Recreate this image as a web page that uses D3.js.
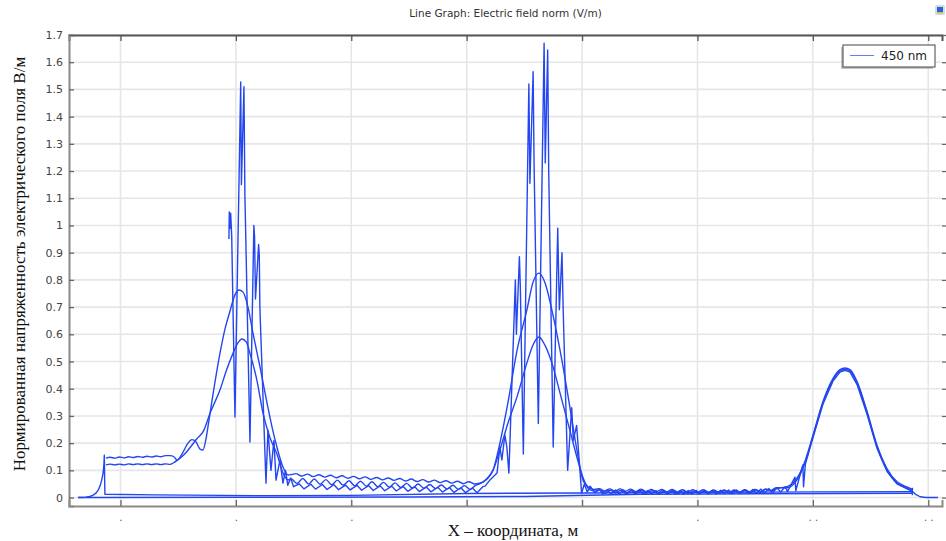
<!DOCTYPE html>
<html>
<head>
<meta charset="utf-8">
<script src="https://cdn.jsdelivr.net/npm/d3@7"></script>
<style>
  html, body { margin: 0; padding: 0; background: #ffffff; }
  svg { display: block; }
</style>
</head>
<body>
<svg id="chart" width="946" height="541"></svg>
<script>
// ---- axis ticks ----
const xTicks = [0, 100, 200, 300, 400, 500, 600, 700];
const xTickLabels = [".", ".", ".", "", "", ".", ". .", ". ."];
const yTicks = [0, 0.1, 0.2, 0.3, 0.4, 0.5, 0.6, 0.7, 0.8, 0.9, 1, 1.1, 1.2, 1.3, 1.4, 1.5, 1.6, 1.7];
const yTickLabels = ["0", "0.1", "0.2", "0.3", "0.4", "0.5", "0.6", "0.7", "0.8", "0.9", "1",
                     "1.1", "1.2", "1.3", "1.4", "1.5", "1.6", "1.7"];

// ---- texts ----
const titleText = "Line Graph: Electric field norm (V/m)";
const xAxisTitle = "X – координата, м";
const yAxisTitle = "Нормированная напряженность электрического поля В/м";
const legendLabel = "450 nm";

// ---- field norm along the cut lines, [x, |E|] ----
// source edge: exponential rise, then the slowly varying near-zero return
const baseLine = [
  [-36.8, 0.000], [-30, 0.001], [-26.5, 0.004], [-23.6, 0.009], [-21, 0.017], [-19.2, 0.028],
  [-17.5, 0.045], [-16.3, 0.064], [-15.5, 0.080], [-14.9, 0.095], [-14.3, 0.125], [-14.0, 0.156],
  [-13.5, 0.012], [30, 0.010], [120, 0.007], [200, 0.008], [300, 0.015], [400, 0.017],
  [500, 0.019], [600, 0.021], [686, 0.022], [686.3, 0.009]
];

const zeroLine = [
  [-36.8, 0.000], [-13.5, 0.000], [100, 0.001], [250, 0.002], [350, 0.004], [450, 0.012],
  [686, 0.016], [686.3, 0.036]
];

// upper smooth envelope
const traceUpper = [
  [-12.6, 0.145], [-9, 0.148], [-5, 0.145], [-1, 0.149], [3, 0.146], [7, 0.150], [11, 0.147],
  [15, 0.151], [19, 0.148], [23, 0.152], [27, 0.149], [31, 0.153], [35, 0.150], [39, 0.154],
  [42.9, 0.154], [46.4, 0.150], [49.0, 0.137], [53.3, 0.160], [58.5, 0.200], [61.9, 0.213],
  [65.4, 0.205], [68.9, 0.178], [71.5, 0.175], [74.1, 0.215], [75.8, 0.260], [80.2, 0.380],
  [86.2, 0.530], [90.6, 0.620], [94.9, 0.685], [99.2, 0.745], [102.7, 0.763], [106.2, 0.755],
  [110.5, 0.700], [114.8, 0.605], [120.9, 0.480], [126.9, 0.350], [131.3, 0.260], [135.6, 0.185],
  [140.8, 0.112], [145.2, 0.083], [148.6, 0.085],
  [152, 0.088], [157, 0.079], [162, 0.086], [167, 0.077], [172, 0.084], [177, 0.075], [182, 0.082],
  [187, 0.073], [192, 0.080], [197, 0.071], [202, 0.078], [207, 0.069], [212, 0.076], [217, 0.067],
  [222, 0.074], [227, 0.065], [232, 0.072], [237, 0.063], [242, 0.070], [247, 0.061], [252, 0.068],
  [257, 0.059], [262, 0.066], [267, 0.057], [272, 0.064], [277, 0.055], [282, 0.062], [287, 0.053],
  [292, 0.060], [297, 0.051], [302, 0.058], [307, 0.050],
  [312, 0.054], [314.5, 0.058], [317.6, 0.068], [322.8, 0.100], [328.8, 0.200], [335.8, 0.350],
  [343.6, 0.540], [352.2, 0.690], [357.4, 0.790], [362.6, 0.825], [367.8, 0.790], [373.8, 0.690],
  [382.5, 0.505], [389.4, 0.333], [395.5, 0.175], [400.7, 0.065], [406.8, 0.035], [411, 0.030],
  [415, 0.033], [419.5, 0.024], [424, 0.032], [428.5, 0.023], [433, 0.032], [437.5, 0.023],
  [442, 0.031], [446.5, 0.022], [451, 0.031], [455.5, 0.022], [460, 0.030], [464.5, 0.022],
  [469, 0.030], [473.5, 0.021], [478, 0.030], [482.5, 0.021], [487, 0.029], [491.5, 0.021],
  [496, 0.029], [500.5, 0.020], [505, 0.029], [509.5, 0.020], [514, 0.028], [518.5, 0.020],
  [523, 0.028], [527.5, 0.020], [532, 0.028], [536.5, 0.020], [541, 0.029], [545.5, 0.021],
  [550, 0.030], [554.5, 0.022], [559, 0.032], [563.5, 0.026], [568, 0.036],
  [577.6, 0.036], [586.2, 0.065], [593.1, 0.127], [600, 0.223], [608.7, 0.347], [617.4, 0.432],
  [623.5, 0.465], [627.8, 0.472], [632.2, 0.465], [638.3, 0.420], [647, 0.310], [655.6, 0.186],
  [664.3, 0.100], [673, 0.053], [681.6, 0.035], [685.9, 0.027]
];

// lower smooth envelope
const traceLower = [
  [-12.6, 0.120], [-9, 0.123], [-5, 0.120], [-1, 0.123], [3, 0.120], [7, 0.124], [11, 0.121],
  [15, 0.124], [19, 0.121], [23, 0.124], [27, 0.121], [31, 0.124], [35, 0.121], [39, 0.124],
  [43, 0.122], [46, 0.128], [50, 0.140], [55, 0.157], [60, 0.182], [66, 0.215], [72, 0.245],
  [77.6, 0.310], [86.2, 0.395], [92, 0.470], [97.5, 0.530], [101.5, 0.567], [105.3, 0.583],
  [109, 0.572], [112.2, 0.530], [118.3, 0.430], [123.5, 0.310], [129.6, 0.220], [135.6, 0.160],
  [140.8, 0.090], [145.2, 0.065],
  [148, 0.068], [153, 0.052], [158, 0.070], [163, 0.050], [168, 0.068], [173, 0.049], [178, 0.066],
  [183, 0.047], [188, 0.064], [193, 0.045], [198, 0.062], [203, 0.043], [208, 0.060], [213, 0.042],
  [218, 0.058], [223, 0.040], [228, 0.056], [233, 0.038], [238, 0.054], [243, 0.037], [248, 0.052],
  [253, 0.035], [258, 0.050], [263, 0.034], [268, 0.048], [273, 0.033], [278, 0.046], [283, 0.031],
  [288, 0.045], [293, 0.030], [298, 0.044], [303, 0.030], [308, 0.046], [312, 0.052],
  [317.6, 0.070], [322.8, 0.100], [328.8, 0.175], [335.8, 0.274], [343.6, 0.370], [352.2, 0.495],
  [357.4, 0.560], [362.6, 0.590], [367.8, 0.560], [373.8, 0.495], [382.5, 0.358], [389.4, 0.248],
  [395.5, 0.149], [400.7, 0.075], [406.8, 0.028], [411, 0.024],
  [415.5, 0.027], [420, 0.017], [424.5, 0.027], [429, 0.017], [433.5, 0.026], [438, 0.016],
  [442.5, 0.026], [447, 0.016], [451.5, 0.026], [456, 0.016], [460.5, 0.025], [465, 0.016],
  [469.5, 0.025], [474, 0.015], [478.5, 0.025], [483, 0.015], [487.5, 0.025], [492, 0.015],
  [496.5, 0.024], [501, 0.015], [505.5, 0.024], [510, 0.015], [514.5, 0.024], [519, 0.016],
  [523.5, 0.025], [528, 0.016], [532.5, 0.025], [537, 0.017], [541.5, 0.026], [546, 0.018],
  [550.5, 0.028], [555, 0.020], [559.5, 0.030], [564, 0.024], [568.5, 0.033],
  [577.6, 0.040], [586.2, 0.071], [593.1, 0.133], [600, 0.228], [608.7, 0.352], [617.4, 0.437],
  [623.5, 0.470], [627.8, 0.476], [632.2, 0.470], [638.3, 0.426], [647, 0.316], [655.6, 0.192],
  [664.3, 0.106], [673, 0.058], [681.6, 0.039], [685.9, 0.031]
];

// strongly oscillating trace
const traceSpiky = [
  [94.0, 0.950], [94.3, 1.050], [94.9, 0.990], [95.5, 1.045], [96.4, 0.960], [99.2, 0.296],
  [104.2, 1.527], [104.8, 1.150], [107.0, 1.510], [107.8, 1.120], [112.2, 0.204], [115.6, 1.000],
  [116.2, 0.960], [117.0, 0.730], [119.7, 0.930], [120.3, 0.890], [120.8, 0.700], [126.1, 0.053],
  [127.8, 0.248], [130.4, 0.100], [133.0, 0.210], [134.8, 0.064], [138.2, 0.138], [140.8, 0.053],
  [143.0, 0.100], [145.0, 0.045], [147.5, 0.072], [150.0, 0.040],
  [155, 0.050], [159, 0.032], [165, 0.049], [169, 0.031], [175, 0.048], [179, 0.030], [185, 0.047],
  [189, 0.029], [195, 0.046], [199, 0.028], [205, 0.045], [209, 0.027], [215, 0.044], [219, 0.026],
  [225, 0.043], [229, 0.025], [235, 0.042], [239, 0.024], [245, 0.041], [249, 0.023], [255, 0.040],
  [259, 0.022], [265, 0.039], [269, 0.021], [275, 0.038], [279, 0.020], [285, 0.037], [289, 0.019],
  [295, 0.036], [299, 0.018], [305, 0.035], [309, 0.018], [314, 0.040],
  [316, 0.042], [320.2, 0.065], [326.3, 0.090], [328.8, 0.186], [330.5, 0.138], [333.1, 0.230],
  [334.8, 0.186], [336.6, 0.090], [342.2, 0.800], [343.1, 0.600], [345.7, 0.885], [346.5, 0.773],
  [349.1, 0.160], [353.9, 1.520], [354.8, 1.155], [357.6, 1.565], [358.4, 1.230], [362.1, 0.272],
  [367.1, 1.670], [368.1, 1.230], [370.2, 1.645], [371.1, 1.200], [375.0, 0.186], [378.9, 0.990],
  [380.3, 0.690], [382.6, 0.900], [383.7, 0.680], [387.5, 0.100], [391.0, 0.330], [392.4, 0.210],
  [395.3, 0.265], [399.6, 0.016], [402, 0.050], [404.5, 0.020], [407, 0.042],
  [411, 0.018], [415, 0.030], [418, 0.014], [422, 0.029], [425, 0.013], [429, 0.028], [432, 0.013],
  [436, 0.028], [439, 0.012], [443, 0.027], [446, 0.012], [450, 0.027], [453, 0.012], [457, 0.026],
  [460, 0.012], [464, 0.026], [467, 0.012], [471, 0.026], [474, 0.012], [478, 0.026], [481, 0.012],
  [485, 0.026], [488, 0.012], [492, 0.026], [495, 0.012], [499, 0.026], [502, 0.013], [506, 0.027],
  [509, 0.013], [513, 0.027], [516, 0.013], [520, 0.027], [523, 0.014], [527, 0.028], [530, 0.014],
  [534, 0.028], [537, 0.015], [541, 0.029], [544, 0.015], [548, 0.030], [551, 0.016], [555, 0.031],
  [558, 0.017], [562, 0.033], [565, 0.018], [569, 0.036], [572, 0.020], [576, 0.040], [578, 0.022],
  [584.5, 0.075], [585.2, 0.025], [591.3, 0.120], [591.9, 0.040], [593.5, 0.123],
  [600, 0.219], [608.7, 0.343], [617.4, 0.428], [623.5, 0.461], [627.8, 0.468], [632.2, 0.461],
  [638.3, 0.415], [647, 0.305], [655.6, 0.181], [664.3, 0.096], [673, 0.050], [681.6, 0.032],
  [685.9, 0.024], [689, 0.012], [693, 0.003], [698, 0.000], [708.4, 0.000]
];

// ---- layout ----
const W = 946, H = 541;
const plot = { left: 69, right: 942, top: 35, bottom: 506 };
const lineColor = "#2346f0";
const svg = d3.select("#chart");

const x = d3.scaleLinear().domain([-44.6, 711.9]).range([plot.left, plot.right]);
const y = d3.scaleLinear().domain([-0.031, 1.7]).range([plot.bottom, plot.top]);

svg.append("rect").attr("width", W).attr("height", H).attr("fill", "#ffffff");

// grid
const grid = svg.append("g");
grid.selectAll("line.vg").data(xTicks).join("line")
  .attr("x1", d => x(d)).attr("x2", d => x(d))
  .attr("y1", plot.top).attr("y2", plot.bottom)
  .attr("stroke", "#e6e6e6").attr("stroke-width", 1.6);
grid.selectAll("line.hg").data(yTicks).join("line")
  .attr("x1", plot.left).attr("x2", plot.right)
  .attr("y1", d => y(d)).attr("y2", d => y(d))
  .attr("stroke", "#e6e6e6").attr("stroke-width", 1.6);

// clip for curves
svg.append("defs").append("clipPath").attr("id", "plotClip")
  .append("rect").attr("x", plot.left).attr("y", plot.top - 2)
  .attr("width", plot.right - plot.left).attr("height", plot.bottom - plot.top + 2);

const linePath = d3.line().x(d => x(d[0])).y(d => y(d[1]));
const smoothPath = d3.line().x(d => x(d[0])).y(d => y(d[1])).curve(d3.curveMonotoneX);

const curves = svg.append("g").attr("clip-path", "url(#plotClip)")
  .attr("fill", "none").attr("stroke", lineColor).attr("stroke-width", 1.4)
  .attr("stroke-linejoin", "round");
curves.append("path").attr("d", linePath(zeroLine));
curves.append("path").attr("d", linePath(baseLine));
curves.append("path").attr("d", smoothPath(traceLower));
curves.append("path").attr("d", smoothPath(traceUpper));
curves.append("path").attr("d", linePath(traceSpiky));

// bottom axis with inward ticks
const xAxisB = d3.axisBottom(x).tickValues(xTicks).tickSize(-6).tickFormat((d, i) => xTickLabels[i]).tickPadding(8);
const gB = svg.append("g").attr("transform", `translate(0,${plot.bottom})`).call(xAxisB);
gB.select(".domain").attr("stroke", "#8a8a8a").attr("stroke-width", 2);
gB.selectAll(".tick line").attr("stroke", "#666").attr("stroke-width", 1.3);
gB.selectAll(".tick text").attr("font-family", "DejaVu Sans, sans-serif").attr("font-size", 10)
  .attr("fill", "#555");

// top axis, ticks only
const xAxisT = d3.axisTop(x).tickValues(xTicks).tickSize(-6).tickFormat("");
const gT = svg.append("g").attr("transform", `translate(0,${plot.top})`).call(xAxisT);
gT.select(".domain").attr("stroke", "#555").attr("stroke-width", 2);
gT.selectAll(".tick line").attr("stroke", "#555").attr("stroke-width", 1.3);

// left axis with labels
const yAxisL = d3.axisLeft(y).tickValues(yTicks).tickSize(-5).tickPadding(6)
  .tickFormat((d, i) => yTickLabels[i]);
const gL = svg.append("g").attr("transform", `translate(${plot.left},0)`).call(yAxisL);
gL.select(".domain").attr("stroke", "#8a8a8a").attr("stroke-width", 2);
gL.selectAll(".tick line").attr("stroke", "#666").attr("stroke-width", 1.3);
gL.selectAll(".tick text").attr("font-family", "DejaVu Sans, sans-serif").attr("font-size", 11)
  .attr("fill", "#444");

// right axis, tick marks only
const yAxisR = d3.axisRight(y).tickValues(yTicks).tickSize(4).tickFormat("");
const gR = svg.append("g").attr("transform", `translate(${plot.right},0)`).call(yAxisR);
gR.select(".domain").attr("stroke", "none");
gR.selectAll(".tick line").attr("stroke", "#666").attr("stroke-width", 1.3);

// title
svg.append("text").attr("x", (plot.left + plot.right) / 2).attr("y", 17)
  .attr("text-anchor", "middle").attr("font-family", "DejaVu Sans, sans-serif")
  .attr("font-size", 10.5).attr("fill", "#333").text(titleText);

// small toolbar glyph at the top right
const icon = svg.append("g").attr("transform", "translate(935,5)");
icon.append("rect").attr("width", 10).attr("height", 10).attr("rx", 1.5).attr("fill", "#cfdcf0");
icon.append("rect").attr("x", 2).attr("y", 2).attr("width", 6).attr("height", 6).attr("fill", "#2f64c8");
icon.append("rect").attr("x", 2).attr("y", 7).attr("width", 6).attr("height", 1.5).attr("fill", "#e0b840");

// axis titles
svg.append("text").attr("x", 513).attr("y", 536).attr("text-anchor", "middle")
  .attr("font-family", "Liberation Serif, Times New Roman, serif").attr("font-size", 17)
  .attr("fill", "#111").text(xAxisTitle);
svg.append("text").attr("transform", "translate(25,264) rotate(-90)").attr("text-anchor", "middle")
  .attr("font-family", "Liberation Serif, Times New Roman, serif").attr("font-size", 17)
  .attr("fill", "#111").text(yAxisTitle);

// legend
const lg = svg.append("g").attr("transform", "translate(843,45)");
lg.append("rect").attr("x", -2).attr("y", 2).attr("width", 92).attr("height", 22).attr("fill", "#a0a0a0").attr("opacity", 0.6);
lg.append("rect").attr("x", 0).attr("y", 0).attr("width", 92).attr("height", 22)
  .attr("fill", "#ffffff").attr("stroke", "#444").attr("stroke-width", 1);
lg.append("line").attr("x1", 7).attr("x2", 31).attr("y1", 10.5).attr("y2", 10.5)
  .attr("stroke", lineColor).attr("stroke-width", 1).attr("opacity", 0.7);
lg.append("text").attr("x", 38).attr("y", 15).attr("font-family", "DejaVu Sans, sans-serif")
  .attr("font-size", 12).attr("fill", "#222").text(legendLabel);
</script>
</body>
</html>
